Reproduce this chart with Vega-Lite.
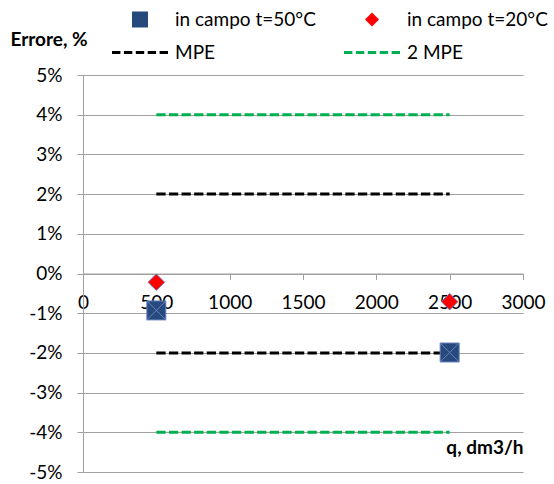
{
  "$schema": "https://vega.github.io/schema/vega-lite/v6.json",
  "width": 440,
  "height": 397,
  "autosize": {"type": "none"},
  "padding": {"left": 83, "top": 75, "right": 31, "bottom": 12},
  "background": "white",
  "config": {"view": {"stroke": null}, "font": "Lato"},
  "datasets": {
    "points": [
      {"series": "in campo t=50°C", "q": 500, "err": -0.93},
      {"series": "in campo t=50°C", "q": 2500, "err": -1.99},
      {"series": "in campo t=20°C", "q": 500, "err": -0.22},
      {"series": "in campo t=20°C", "q": 2500, "err": -0.71}
    ],
    "lines": [
      {"series": "MPE", "q": 500, "q2": 2500, "err": 2},
      {"series": "MPE", "q": 500, "q2": 2500, "err": -2},
      {"series": "2 MPE", "q": 500, "q2": 2500, "err": 4},
      {"series": "2 MPE", "q": 500, "q2": 2500, "err": -4}
    ]
  },
  "encoding": {
    "x": {
      "field": "q", "type": "quantitative",
      "scale": {"domain": [0, 3000], "nice": false, "zero": false},
      "axis": {
        "values": [0, 500, 1000, 1500, 2000, 2500, 3000],
        "tickCount": 20,
        "format": "d",
        "offset": -198.5,
        "grid": false,
        "domainColor": "#A0A0A0",
        "tickColor": "#A0A0A0",
        "tickSize": 6,
        "labelFontSize": 19,
        "labelColor": "#000000",
        "labelPadding": 13.5,
        "labelFlush": false,
        "labelOverlap": false,
        "title": "q, dm3/h",
        "titleFontSize": 19,
        "titleFontWeight": "bold",
        "titleColor": "#000000",
        "titleX": 440,
        "titleY": 173.5,
        "titleAlign": "right",
        "titleBaseline": "middle"
      }
    },
    "y": {
      "field": "err", "type": "quantitative",
      "scale": {"domain": [-5, 5], "nice": false, "zero": false},
      "axis": {
        "values": [-5, -4, -3, -2, -1, 0, 1, 2, 3, 4, 5],
        "tickCount": 30,
        "labelExpr": "datum.value + '%'",
        "grid": true,
        "gridColor": "#A0A0A0",
        "domainColor": "#A0A0A0",
        "tickColor": "#A0A0A0",
        "tickSize": 6,
        "labelPadding": 15,
        "labelFontSize": 19,
        "labelColor": "#000000",
        "labelOverlap": false,
        "title": "Errore, %",
        "titleAngle": 0,
        "titleX": -73,
        "titleY": -30,
        "titleAlign": "left",
        "titleBaseline": "alphabetic",
        "titleFontWeight": "bold",
        "titleFontSize": 19,
        "titleColor": "#000000"
      }
    }
  },
  "layer": [
    {
      "data": {"name": "lines"},
      "mark": {"type": "rule", "strokeWidth": 3, "strokeDash": [9.3, 3.3]},
      "encoding": {
        "x2": {"field": "q2"},
        "stroke": {
          "field": "series", "type": "nominal",
          "scale": {"domain": ["MPE", "2 MPE"], "range": ["#000000", "#00B050"]},
          "legend": null
        }
      }
    },
    {
      "data": {"name": "points"},
      "mark": {"type": "point", "filled": true, "size": 4410, "stroke": "#6A80BF", "strokeWidth": 1, "opacity": 1},
      "encoding": {
        "color": {
          "field": "series", "type": "nominal",
          "scale": {
            "domain": ["in campo t=50°C", "in campo t=20°C", "MPE", "2 MPE"],
            "range": ["#264A7D", "#FF0000", "#000000", "#00B050"]
          },
          "legend": {
            "title": null,
            "orient": "none",
            "direction": "horizontal",
            "legendX": 29,
            "legendY": -65.5,
            "columns": 2,
            "symbolSize": 3136,
            "symbolStrokeWidth": 0,
            "labelFontSize": 19,
            "labelFont": "Lato",
            "labelColor": "#000000",
            "labelOffset": 7,
            "labelLimit": 300,
            "columnPadding": 28,
            "rowPadding": 13,
            "clipHeight": 20,
            "encode": {
              "symbols": {
                "update": {
                  "fill": {"scale": "color", "field": "value"},
                  "stroke": {"signal": "indexof(['MPE','2 MPE'], datum.value) >= 0 ? 'transparent' : '#6A80BF'"},
                  "opacity": {"value": 1}
                }
              }
            }
          }
        },
        "shape": {
          "field": "series", "type": "nominal",
          "scale": {
            "domain": ["in campo t=50°C", "in campo t=20°C", "MPE", "2 MPE"],
            "range": [
              "M-0.286,-0.286H0.286V0.286H-0.286Z M-0.286,-0.286L0.286,0.286 M-0.286,0.286L0.286,-0.286",
              "M0,-0.25L0.25,0L0,0.25L-0.25,0Z",
              "M-1,-0.054h0.3v0.108h-0.3Z M-0.575,-0.054h0.3v0.108h-0.3Z M-0.15,-0.054h0.3v0.108h-0.3Z M0.275,-0.054h0.3v0.108h-0.3Z M0.7,-0.054h0.3v0.108h-0.3Z",
              "M-1,-0.054h0.3v0.108h-0.3Z M-0.575,-0.054h0.3v0.108h-0.3Z M-0.15,-0.054h0.3v0.108h-0.3Z M0.275,-0.054h0.3v0.108h-0.3Z M0.7,-0.054h0.3v0.108h-0.3Z"
            ]
          }
        }
      }
    }
  ]
}
